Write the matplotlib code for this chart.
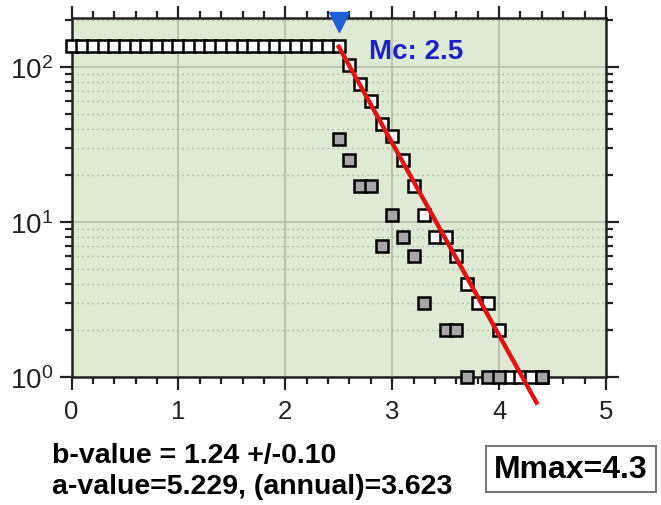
import matplotlib as mpl
import matplotlib.pyplot as plt
import matplotlib.transforms as mtrans
from matplotlib.ticker import MultipleLocator, LogLocator, NullFormatter

# magnitude bins and counts
mag_cum = [0.0, 0.1, 0.2, 0.3, 0.4, 0.5, 0.6, 0.7, 0.8, 0.9,
           1.0, 1.1, 1.2, 1.3, 1.4, 1.5, 1.6, 1.7, 1.8, 1.9,
           2.0, 2.1, 2.2, 2.3, 2.4, 2.5, 2.6, 2.7, 2.8, 2.9,
           3.0, 3.1, 3.2, 3.3, 3.4, 3.5, 3.6, 3.7, 3.8, 3.9,
           4.0, 4.1, 4.2, 4.3, 4.4]
n_cum = [136, 136, 136, 136, 136, 136, 136, 136, 136, 136,
         136, 136, 136, 136, 136, 136, 136, 136, 136, 136,
         136, 136, 136, 136, 136, 136, 102, 77, 60, 43,
         36, 25, 17, 11, 8, 8, 6, 4, 3, 3,
         2, 1, 1, 1, 1]

mag_non = [2.5, 2.6, 2.7, 2.8, 2.9, 3.0, 3.1, 3.2, 3.3, 3.5, 3.6, 3.7, 3.9, 4.0, 4.4]
n_non = [34, 25, 17, 17, 7, 11, 8, 6, 3, 2, 2, 1, 1, 1, 1]

mc = 2.5
b_value = 1.24
b_err = 0.10
a_value = 5.229
a_annual = 3.623
mmax = 4.3
fit_mag = [2.5, 4.35]


def figCreate():
    mpl.rcParams['font.family'] = 'Liberation Sans'
    mpl.rcParams['font.size'] = 18
    fig = plt.figure(figsize=(6.61, 5.06), dpi=100)
    ax = fig.add_axes([0.1082, 0.2530, 0.8086, 0.7085])
    return fig, ax


fig, ax = figCreate()
ax.set_facecolor('#dfead5')

ax.set_yscale('log')
ax.set_xlim(0, 5)
ax.set_ylim(1, 205)

# grid
ax.grid(True, which='major', color='#b3bdac', linewidth=1.2, linestyle='-')
ax.yaxis.grid(True, which='minor', color='#9da796', linewidth=0.9, linestyle=(0, (1, 3)))
ax.set_axisbelow(True)

# data
ax.plot(mag_cum, n_cum, 's', color='white', markeredgecolor='black',
        markersize=9, markeredgewidth=1.8, zorder=3, clip_on=False)
ax.plot(mag_non, n_non, 's', color='#a6a6a6', markeredgecolor='black',
        markersize=9, markeredgewidth=1.8, zorder=3, clip_on=False)

fit_n = [10 ** (a_value - b_value * m) for m in fit_mag]
ax.plot(fit_mag, fit_n, color='#e21313', linewidth=3.2, zorder=4, clip_on=False)

# Mc marker
trans = mtrans.blended_transform_factory(ax.transData, ax.transAxes)
ax.plot([mc], [0.99], 'v', color='#1f5fd6', markersize=14, transform=trans,
        clip_on=False, zorder=6)
ax.text(2.78, 127, 'Mc: %.1f' % mc, color='#1d22c4', fontsize=20,
        fontweight='bold', va='center', ha='left', zorder=6)

# ticks
ax.xaxis.set_major_locator(MultipleLocator(1))
ax.xaxis.set_minor_locator(MultipleLocator(0.2))
ax.yaxis.set_major_locator(LogLocator(base=10))
ax.yaxis.set_minor_locator(LogLocator(base=10, subs=range(2, 10)))
ax.yaxis.set_minor_formatter(NullFormatter())
ax.tick_params(which='both', direction='out', top=True, right=True,
               width=1.6, colors='#222222', labelcolor='#222222')
ax.tick_params(which='major', length=9)
ax.tick_params(which='minor', length=5)
ax.tick_params(axis='x', which='major', pad=7, labelsize=18.5)
ax.tick_params(axis='y', which='major', pad=4, labelsize=20)
for s in ax.spines.values():
    s.set_linewidth(1.8)
    s.set_color('#222222')

# text below
fig.text(0.079, 0.099, 'b-value = %.2f +/-%.2f' % (b_value, b_err),
         fontsize=20.5, fontweight='bold', va='center', ha='left')
fig.text(0.079, 0.038, 'a-value=%.3f, (annual)=%.3f' % (a_value, a_annual),
         fontsize=20.5, fontweight='bold', va='center', ha='left')
fig.text(0.864, 0.071, 'Mmax=%.1f' % mmax, fontsize=23, fontweight='bold',
         va='center', ha='center',
         bbox=dict(boxstyle='square,pad=0.25', facecolor='white', edgecolor='#777777', linewidth=1.5))

plt.savefig('out.png', dpi=100)
plt.close('all')
